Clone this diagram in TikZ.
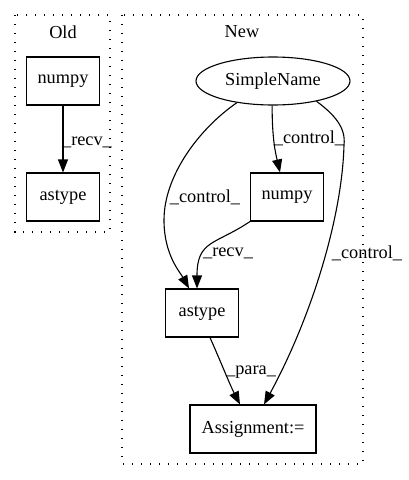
\documentclass[tikz,border=0pt]{standalone}
\usepackage{fontspec}
\setmainfont{Liberation Serif}
\usetikzlibrary{arrows.meta,shapes.geometric}

\begin{document}
\begin{tikzpicture}[x=1pt,y=-1pt,line width=1.1pt,
  >={Triangle[length=13pt,width=10pt]},
  every node/.style={font=\fontsize{18.3}{22}\selectfont},
  box/.style={draw,rectangle,minimum width=73pt,minimum height=48pt,inner sep=0pt},
  oval/.style={draw,ellipse,minimum width=154pt,minimum height=48pt,inner sep=0pt},
  cluster/.style={draw,dash pattern=on 1.3pt off 7.7pt},
  lbl/.style={inner sep=0pt}]
  \useasboundingbox (0,0) rectangle (408,480);

  % clusters
  \draw[cluster] (15,15) rectangle (110,232);
  \draw[cluster] (122,15) rectangle (363,464);
  \node (old) at (63,32) {Old};
  \node (new) at (242,32) {New};

  \node[box]  (onumpy)  at (63,81)   {numpy};
  \node[box]  (oastype) at (63,197)  {astype};
  \node[oval] (sname)   at (273,81)  {SimpleName};
  \node[box]  (numpy)   at (287,197) {numpy};
  \node[box]  (astype)  at (202,313) {astype};
  \node[box,minimum width=126pt] (assign) at (253,429) {Assignment:=};

  \draw[->] (onumpy) -- (oastype) node[lbl] at (87,142) {\_recv\_};
  \draw[->] (sname.-92) .. controls (272,140) and (276,155) .. ([xshift=-7pt]numpy.north)
    node[lbl] at (309,138) {\_control\_};
  \draw[->] (sname.-149) .. controls (200,128) and (164,175) .. (164,220)
    .. controls (164,255) and (180,272) .. ([xshift=-13pt]astype.north)
    node[lbl] at (205,197) {\_control\_};
  \draw[->] (sname.-25) .. controls (335,115) and (346,128) .. (344,145)
    .. controls (342,220) and (310,320) .. ([xshift=11pt]assign.north)
    node[lbl] at (367,253) {\_control\_};
  \draw[->] (numpy.south west) .. controls (215,245) and (197,240) .. ([xshift=-5pt]astype.north)
    node[lbl] at (228,253) {\_recv\_};
  \draw[->] ([xshift=8pt]astype.south) .. controls (220,360) and (230,385) .. ([xshift=-13pt]assign.north)
    node[lbl] at (251,372) {\_para\_};
\end{tikzpicture}
\end{document}
